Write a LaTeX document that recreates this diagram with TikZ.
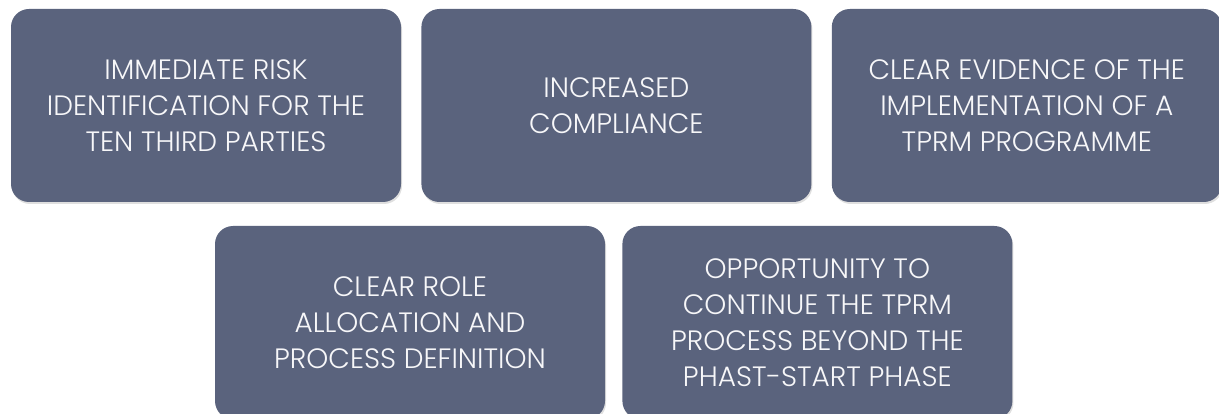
\documentclass[tikz,border=0pt]{standalone}
\usepackage{fontspec}
\setmainfont{Poppins}[UprightFont=* Light]
\usepackage{xcolor}
\usepackage{tikz}
\usetikzlibrary{shapes,shadows,positioning}
\definecolor{slate}{RGB}{90,99,125}
\def\boxsep{20pt}

\begin{document}
\begin{tikzpicture}[x=1pt,y=-1pt,node distance=\boxsep]
    \tikzstyle{benefit}=[rectangle,rounded corners=18pt,fill=slate,text=white!95!slate,
        minimum width=390pt,minimum height=193pt,inner sep=0pt,align=center,
        font=\fontsize{28}{36}\selectfont,
        drop shadow={opacity=0.25,shadow xshift=1pt,shadow yshift=-2pt}]

    \useasboundingbox (0,0) rectangle (1219,414);

    % Top row of benefits
    \node[benefit] (B-1) at (206,105.5) {IMMEDIATE RISK\\IDENTIFICATION FOR THE\\TEN THIRD PARTIES};
    \node[benefit,right=of B-1] (B-2) {INCREASED\\COMPLIANCE};
    \node[benefit,right=of B-2] (B-3) {CLEAR EVIDENCE OF THE\\IMPLEMENTATION OF A\\TPRM PROGRAMME};

    % Bottom row, cut by the page edge
    \node[benefit] (B-4) at (410,322.5) {CLEAR ROLE\\ALLOCATION AND\\PROCESS DEFINITION};
    \node[benefit,right=17pt of B-4] (B-5) {OPPORTUNITY TO\\CONTINUE THE TPRM\\PROCESS BEYOND THE\\PHAST-START PHASE};

\end{tikzpicture}
\end{document}
